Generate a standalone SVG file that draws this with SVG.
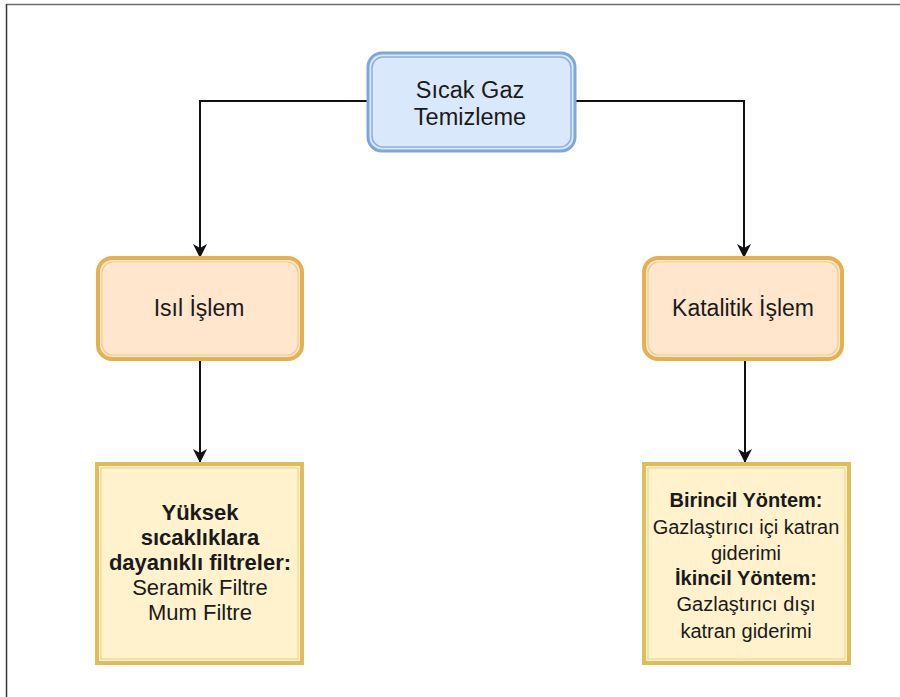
<svg xmlns="http://www.w3.org/2000/svg" width="900" height="697" viewBox="0 0 900 697">
  <style>
    .t { font-family: "Liberation Sans", Arial, sans-serif; fill: #1a1a1a; text-anchor: middle; }
    .b { font-weight: bold; }
    .edge { stroke: #111; stroke-width: 2; fill: none; }
    .blueOut { fill: #dae8fc; stroke: #7fa6dc; stroke-width: 3; }
    .blueIn { fill: none; stroke: #8daee0; stroke-width: 1.5; }
    .orgOut { fill: #ffe6cc; stroke: #e6b04f; stroke-width: 4; }
    .orgIn { fill: none; stroke: #f3cc8a; stroke-width: 1.2; }
    .yelOut { fill: #fff2cc; stroke: #dfbd5c; stroke-width: 4; }
    .yelIn { fill: none; stroke: #f0d88e; stroke-width: 1.2; }
  </style>
  <defs>
    <!-- classic notched arrowhead -->
    <marker id="arrow" viewBox="0 0 14 14" refX="13" refY="7" markerWidth="14" markerHeight="14" markerUnits="userSpaceOnUse" orient="auto">
      <path d="M0,0 L14,7 L0,14 L4,7 z" fill="#111"/>
    </marker>
  </defs>

  <rect width="900" height="697" fill="#ffffff"/>
  <!-- page frame -->
  <line x1="6" y1="4.5" x2="900" y2="4.5" stroke="#6d6d6d" stroke-width="1.5"/>
  <line x1="6.5" y1="4" x2="6.5" y2="697" stroke="#333" stroke-width="1.5"/>

  <g id="connectors">
    <path class="edge" d="M367,101 H200 V257" marker-end="url(#arrow)"/>
    <path class="edge" d="M575,101 H744 V257" marker-end="url(#arrow)"/>
    <path class="edge" d="M200,360 V462" marker-end="url(#arrow)"/>
    <path class="edge" d="M745,360 V462" marker-end="url(#arrow)"/>
  </g>

  <g id="sicak-gaz">
    <rect class="blueOut" x="368" y="53" width="207" height="98" rx="14"/>
    <rect class="blueIn" x="372" y="57" width="199" height="90" rx="11"/>
    <text class="t" x="470" y="98" font-size="23.5">Sıcak Gaz</text>
    <text class="t" x="470" y="125" font-size="23.5">Temizleme</text>
  </g>

  <g id="isil-islem">
    <rect class="orgOut" x="98" y="258" width="204" height="101" rx="14"/>
    <rect class="orgIn" x="102" y="262" width="196" height="93" rx="11"/>
    <text class="t" x="199" y="316" font-size="23">Isıl İşlem</text>
  </g>

  <g id="katalitik-islem">
    <rect class="orgOut" x="644" y="258" width="198" height="101" rx="14"/>
    <rect class="orgIn" x="648" y="262" width="190" height="93" rx="11"/>
    <text class="t" x="743" y="316" font-size="23">Katalitik İşlem</text>
  </g>

  <g id="filtreler">
    <rect class="yelOut" x="97" y="464" width="205" height="199"/>
    <rect class="yelIn" x="101" y="468" width="197" height="191"/>
    <text class="t b" x="200" y="520" font-size="22">Yüksek</text>
    <text class="t b" x="200" y="545" font-size="22">sıcaklıklara</text>
    <text class="t b" x="200" y="570" font-size="22">dayanıklı filtreler:</text>
    <text class="t" x="200" y="595" font-size="22">Seramik Filtre</text>
    <text class="t" x="200" y="620" font-size="22">Mum Filtre</text>
  </g>

  <g id="yontemler">
    <rect class="yelOut" x="644" y="464" width="205" height="199"/>
    <rect class="yelIn" x="648" y="468" width="197" height="191"/>
    <text class="t b" x="746" y="507" font-size="20">Birincil Yöntem:</text>
    <text class="t" x="746" y="534" font-size="20">Gazlaştırıcı içi katran</text>
    <text class="t" x="746" y="560" font-size="20">giderimi</text>
    <text class="t b" x="746" y="585" font-size="20">İkincil Yöntem:</text>
    <text class="t" x="746" y="611" font-size="20">Gazlaştırıcı dışı</text>
    <text class="t" x="746" y="638" font-size="20">katran giderimi</text>
  </g>
</svg>
